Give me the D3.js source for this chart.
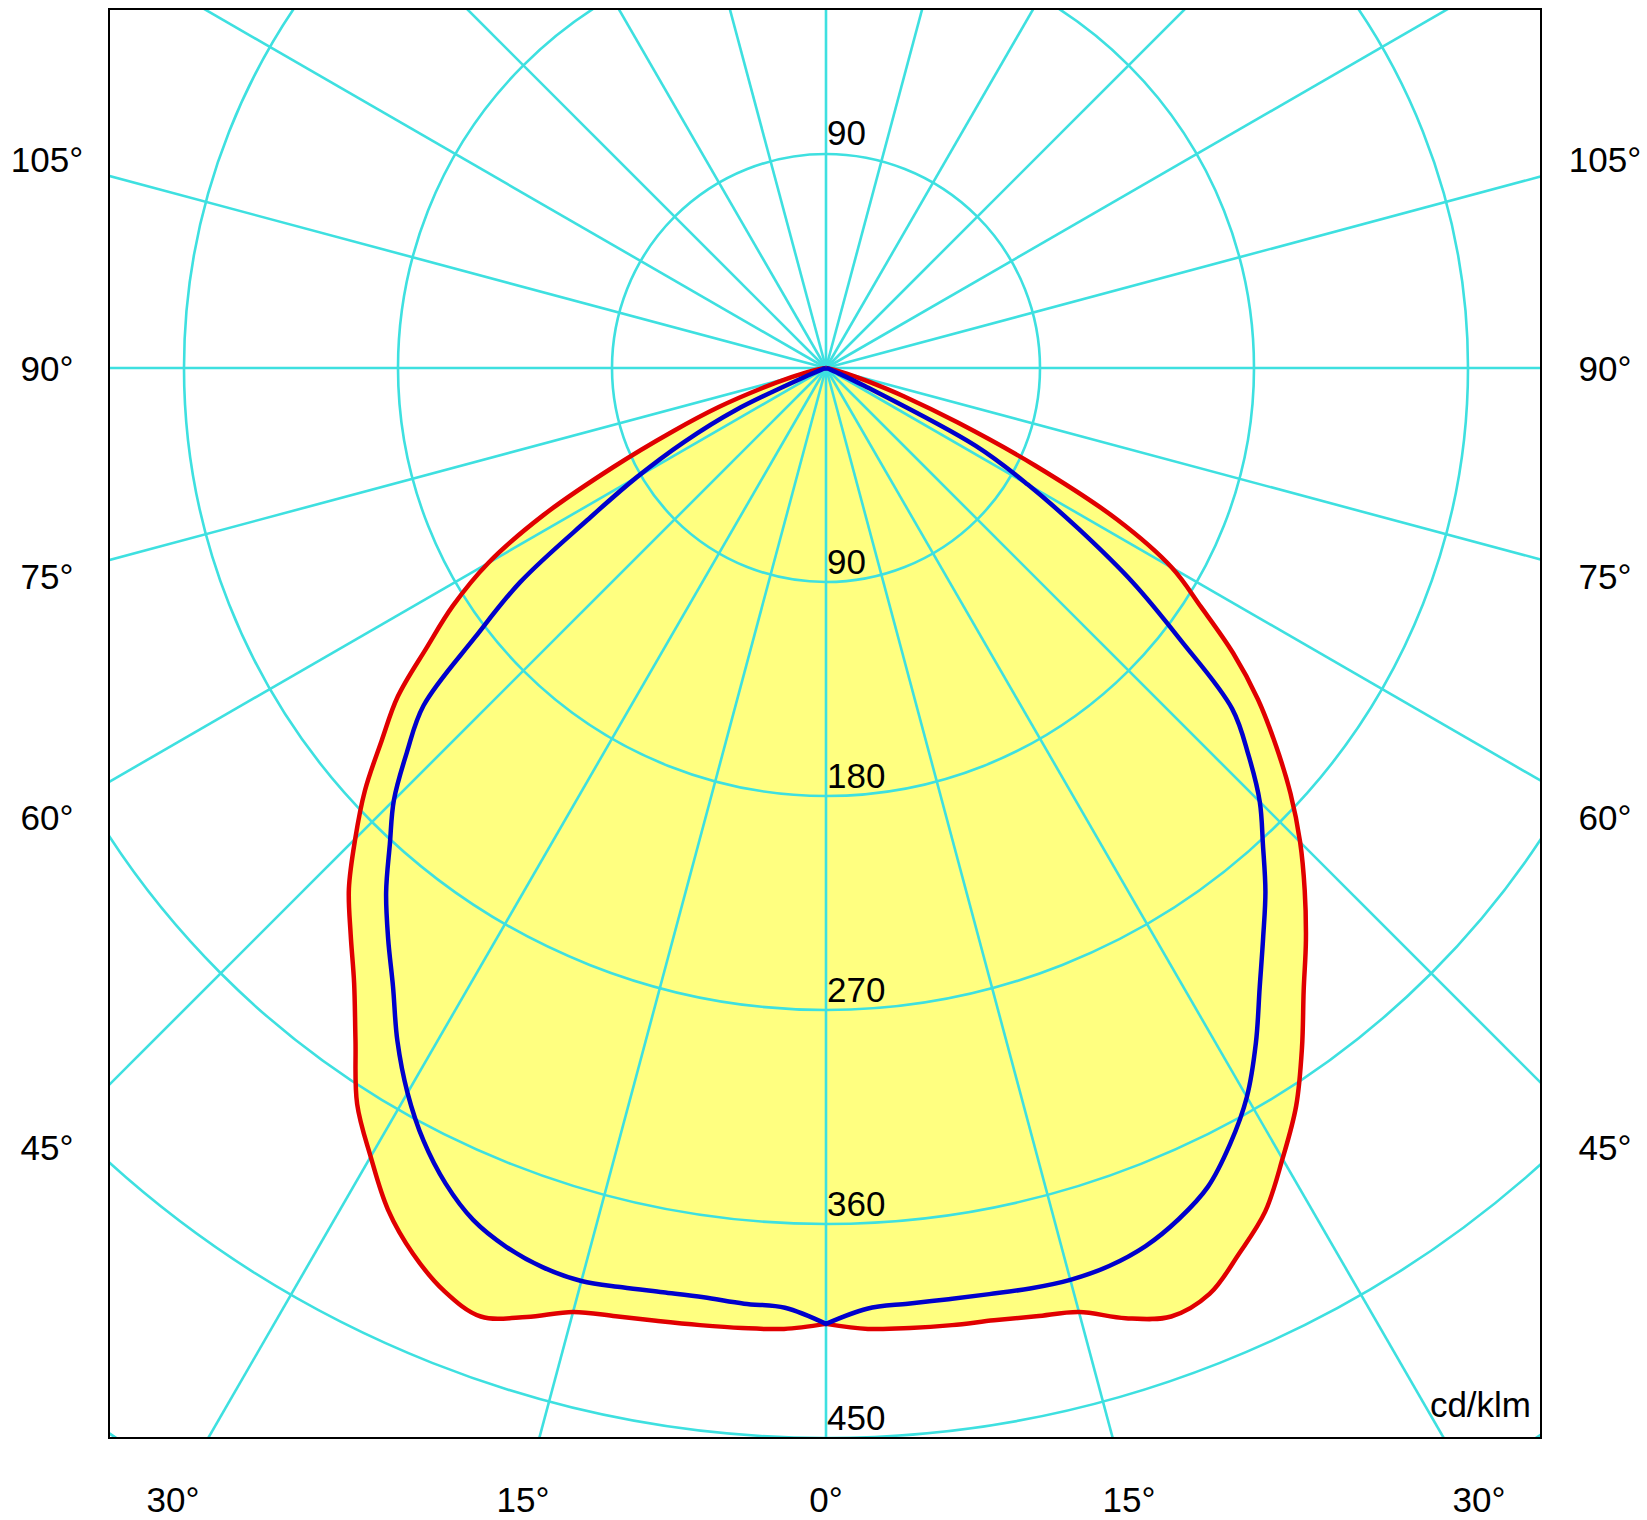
<!DOCTYPE html>
<html>
<head>
<meta charset="utf-8">
<script src="https://cdn.jsdelivr.net/npm/d3@7"></script>
<style>
  body { margin: 0; background: #ffffff; }
  svg { display: block; }
  text { font-family: "Liberation Sans", Arial, Helvetica, sans-serif; fill: #000; }
</style>
</head>
<body>
<svg id="chart" width="1647" height="1520"></svg>
<script>
// ---- DATA (cd/klm vs gamma angle in degrees) ----
const gammaAngles = [0,2.5,5,7.5,10,12.5,15,17.5,20,22.5,25,27.5,30,32.5,35,37.5,40,42.5,45,47.5,50,52.5,55,57.5,60,62.5,65,67.5,70,72.5,75,77.5,80,82.5,85,87.5,90];
// red curve, right half (C0)
const planeC0   = [402,404.5,405.3,406,406.7,408.5,411,419,424.5,421.5,411,400,384,368,349,330,314,298,282,265,247,229,209,187,168,138,97,60,35,18,9,4,1.5,0.5,0,0,0];
// red curve, left half (C180)
const planeC180 = [402,404.5,405.3,406,407,408.5,411,418.5,424.5,420,411,399,383,367,345,326,311,297,280,263,244,227,205,186,164,134,99,70,48,28,15,8,3,1,0,0,0];
// blue curve, right half (C90)
const planeC90  = [402,396,395,395,395.5,396.5,397,396,393,387.5,380,368,354,336.5,318,302,287.5,272,258,241,223,188,158,126,98,71,18,5,2,1,0,0,0,0,0,0,0];
// blue curve, left half (C270)
const planeC270 = [402,395.6,395,394.2,394.7,396,397.5,396.5,393.3,387.8,378.5,366.5,352,335.5,317.5,302.5,287.8,271.5,257,239,221,186,157,119,92,67,42,8,2,1,0,0,0,0,0,0,0];

const ringValues = [90,180,270,360,450,540];
const ringLabelsBelow = ["90","180","270","360","450"];
const ringLabelsAbove = ["90"];
const sideAngleLabels = [45,60,75,90,105];
const bottomAngleLabels = [-30,-15,0,15,30];
const unitLabel = "cd/klm";
const radialStep = 15;

// ---- LAYOUT ----
const box = { x0: 109, y0: 9, x1: 1541, y1: 1438 };
const cx = 826, cy = 368;
const maxVal = 450;
const rScale = d3.scaleLinear().domain([0, maxVal]).range([0, box.y1 - cy]);

const colors = {
  grid: "#3ee0e0",
  fill: "#ffff80",
  red: "#e00000",
  blue: "#0000cc",
  box: "#000000"
};
const fontSize = 35;

const svg = d3.select("#chart");
const defs = svg.append("defs");
defs.append("clipPath").attr("id", "boxclip")
  .append("rect")
  .attr("x", box.x0).attr("y", box.y0)
  .attr("width", box.x1 - box.x0).attr("height", box.y1 - box.y0);

const clipped = svg.append("g").attr("clip-path", "url(#boxclip)")
  .append("g").attr("transform", `translate(${cx},${cy})`);

const radial = d3.lineRadial()
  .angle(d => d.a)
  .radius(d => rScale(d.v))
  .curve(d3.curveCatmullRom.alpha(0.5));

// each half is smoothed separately so the nadir (0 deg) keeps its sharp point
function halfPoints(vals, side) {
  return gammaAngles.map((g, i) => ({ a: Math.PI - side * g * Math.PI / 180, v: vals[i] }));
}
function planePath(leftVals, rightVals) {
  const left = halfPoints(leftVals, -1).reverse();   // 90 -> 0 on the left
  const right = halfPoints(rightVals, 1);             // 0 -> 90 on the right
  return radial(left) + radial(right).replace(/^M/, "L");
}
const redPath = planePath(planeC180, planeC0);
const bluePath = planePath(planeC270, planeC90);

// fills
clipped.append("path").attr("d", redPath + "Z").attr("fill", colors.fill).attr("stroke", "none");
clipped.append("path").attr("d", bluePath + "Z").attr("fill", colors.fill).attr("stroke", "none");

// grid circles
clipped.selectAll("circle.ring").data(ringValues).enter()
  .append("circle").attr("class", "ring")
  .attr("cx", 0).attr("cy", 0).attr("r", d => rScale(d))
  .attr("fill", "none").attr("stroke", colors.grid).attr("stroke-width", 2.6);

// radial lines
const radialAngles = d3.range(0, 360, radialStep);
clipped.selectAll("line.spoke").data(radialAngles).enter()
  .append("line").attr("class", "spoke")
  .attr("x1", 0).attr("y1", 0)
  .attr("x2", d => 2500 * Math.sin(d * Math.PI / 180))
  .attr("y2", d => 2500 * Math.cos(d * Math.PI / 180))
  .attr("stroke", colors.grid).attr("stroke-width", 2.6);

// curves
clipped.append("path").attr("d", redPath)
  .attr("fill", "none").attr("stroke", colors.red).attr("stroke-width", 4.5).attr("stroke-linejoin", "round");
clipped.append("path").attr("d", bluePath)
  .attr("fill", "none").attr("stroke", colors.blue).attr("stroke-width", 4.5).attr("stroke-linejoin", "round");

// frame
svg.append("rect")
  .attr("x", box.x0).attr("y", box.y0)
  .attr("width", box.x1 - box.x0).attr("height", box.y1 - box.y0)
  .attr("fill", "none").attr("stroke", colors.box).attr("stroke-width", 2);

// ring labels
const labels = svg.append("g").attr("font-size", fontSize);
ringLabelsBelow.forEach(t => {
  labels.append("text")
    .attr("x", cx + 1).attr("y", cy + rScale(+t) - 8)
    .attr("text-anchor", "start").text(t);
});
ringLabelsAbove.forEach(t => {
  labels.append("text")
    .attr("x", cx + 1).attr("y", cy - rScale(+t) - 9)
    .attr("text-anchor", "start").text(t);
});

// side angle labels
const sideOffset = 779;
sideAngleLabels.forEach(a => {
  const rad = a * Math.PI / 180;
  const y = cy + sideOffset * Math.cos(rad) / Math.sin(rad);
  [cx - sideOffset, cx + sideOffset].forEach(x => {
    labels.append("text").attr("x", x).attr("y", y).attr("dy", "0.36em")
      .attr("text-anchor", "middle").text(a + "°");
  });
});
// bottom angle labels
const bottomOffset = 1131;
bottomAngleLabels.forEach(a => {
  const rad = a * Math.PI / 180;
  labels.append("text")
    .attr("x", cx + bottomOffset * Math.tan(rad)).attr("y", cy + bottomOffset)
    .attr("dy", "0.36em").attr("text-anchor", "middle")
    .text(Math.abs(a) + "°");
});

// unit
labels.append("text").attr("x", box.x1 - 10).attr("y", box.y1 - 21)
  .attr("text-anchor", "end").text(unitLabel);
</script>
</body>
</html>
